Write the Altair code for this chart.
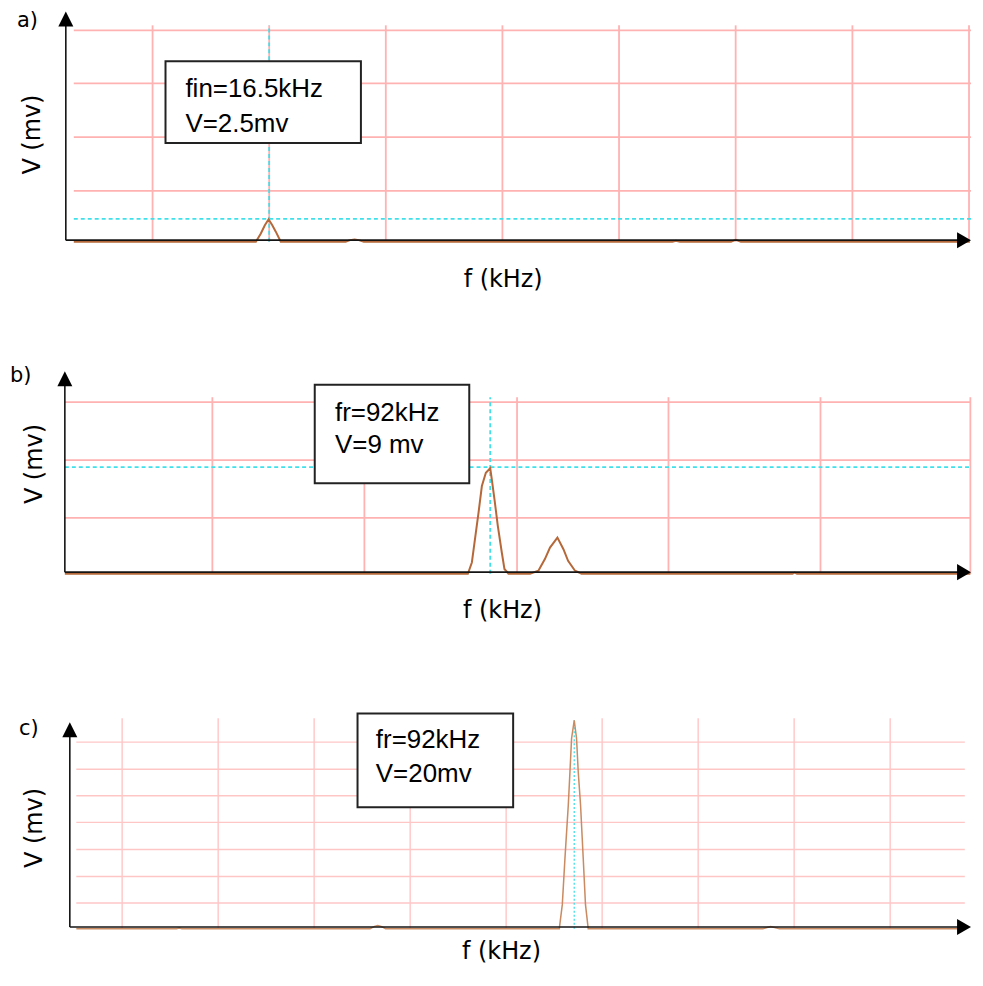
import altair as alt
import pandas as pd

# ---------------- data ----------------
# a) input spectrum: frequency (kHz) / amplitude (mV)
A_F = [0.8, 15.43, 15.83, 16.15, 16.45, 16.75, 17.03, 17.43, 22.64, 23.0, 23.36, 23.7, 24.1,
       48.9, 49.18, 49.5, 53.6, 53.99, 54.4, 72.8]
A_V = [0, 0, 0.9, 1.8, 2.45, 1.8, 1.1, 0, 0, 0.18, 0.25, 0.18, 0,
       0, 0.1, 0, 0, 0.2, 0, 0]
A_GRID_X = [7.13, 16.5, 25.87, 35.24, 44.61, 53.98, 63.36, 72.73]
A_GRID_Y = [5.54, 11.41, 17.28, 23.04]
A_CROSS = (16.5, 2.5)
A_TEXT = ["fin=16.5kHz", "V=2.5mv"]

# b)
B_F = [0.22, 87.18, 88.04, 88.9, 89.48, 90.2, 91.06, 92.0, 92.34, 92.92, 93.64, 94.5, 95.07, 95.94,
       100.6, 102.4, 103.8, 104.9, 106.5, 107.8, 108.8, 110.3, 111.7, 157.2, 157.7, 158.2, 195.6]
B_V = [0, 0, 0.95, 3.47, 5.16, 7.4, 8.52, 8.9, 7.97, 6.28, 4.04, 1.79, 0.4, 0,
       0, 0.25, 1.24, 2.21, 3.05, 2.07, 1.09, 0.25, 0, 0, 0.1, 0, 0]
B_GRID_X = [32.05, 64.85, 97.79, 130.46, 163.26, 195.6]
B_GRID_Y = [4.71, 9.59, 14.47]
B_CROSS = (92.0, 9.0)
B_TEXT = ["fr=92kHz", "V=9 mv"]

# c)
C_F = [2.25, 20.3, 20.8, 21.3, 55.2, 56.0, 56.6, 57.2, 58.0,
       89.31, 89.85, 90.33, 90.93, 91.23, 91.52, 92.0, 92.42, 92.72, 93.14, 93.62, 94.03, 94.52,
       126.0, 127.4, 129.0, 162.4]
C_V = [0, 0, 0.06, 0, 0, 0.22, 0.3, 0.22, 0,
       0, 2.3, 6.77, 11.87, 15.05, 18.25, 20.0, 18.25, 15.05, 11.87, 6.77, 2.3, 0,
       0, 0.2, 0, 0]
C_GRID_X = [10.51, 27.82, 45.12, 62.43, 79.73, 97.03, 114.34, 131.64, 148.95]
C_GRID_Y = [2.46, 5.0, 7.6, 10.2, 12.75, 15.3, 17.9]
C_CROSS = (92.0, 20.0)
C_TEXT = ["fr=92kHz", "V=20mv"]

PANEL_LABELS = ["a)", "b)", "c)"]
X_TITLE = "f (kHz)"
Y_TITLE = "V (mv)"

# ---------------- layout / style ----------------
W = 910
UP = "M0,0L1,2L-1,2Z"
RIGHT = "M0,0L-2,-1.15L-2,1.15Z"

panels_cfg = [
    dict(F=A_F, V=A_V, gx=A_GRID_X, gy=A_GRID_Y, cross=A_CROSS, text=A_TEXT, label=PANEL_LABELS[0],
         xdom=[0, 72.89], ydom=[0, 25.11], h=231, sx=12.485, sy=9.2,
         yx=0.16, ytip=25.11, vtop=23.6, hx=[0.8, 72.89], cyan_h=True, cyan_top=23.6,
         box=[8.17, 23.87, 10.76, 19.67], tx=9.77, ty=[15.76, 11.96],
         xtX=440.7, xtY=276.5, ytX=-23.5, ytY=123.5, lx=-47, ly=16,
         grid="#ffb2b2", gw=1.8, trace="#b5693a", tw=2.0, cyan_dash=[4, 3], cyan_w=1.8),
    dict(F=B_F, V=B_V, gx=B_GRID_X, gy=B_GRID_Y, cross=B_CROSS, text=B_TEXT, label=PANEL_LABELS[1],
         xdom=[0, 195.74], ydom=[-1.26, 17.07], h=218, sx=4.649, sy=11.89,
         yx=0.22, ytip=17.07, vtop=14.89, hx=[0.22, 195.74], cyan_h=True, cyan_top=14.89,
         box=[54.14, 87.48, 7.63, 15.95], tx=58.51, ty=[12.87, 10.15],
         xtX=440.0, xtY=247.8, ytX=-22.3, ytY=93, lx=-54, ly=11,
         grid="#ffb2b2", gw=1.8, trace="#b5693a", tw=2.0, cyan_dash=[4, 3], cyan_w=1.8),
    dict(F=C_F, V=C_V, gx=C_GRID_X, gy=C_GRID_Y, cross=C_CROSS, text=C_TEXT, label=PANEL_LABELS[2],
         xdom=[0, 163.52], ydom=[0, 20.19], h=211, sx=5.565, sy=10.45,
         yx=1.08, ytip=19.81, vtop=20.19, hx=[2.25, 162.4], cyan_h=False, cyan_top=20.0,
         box=[52.94, 80.99, 11.65, 20.64], tx=56.24, ty=[17.29, 14.04],
         xtX=439.0, xtY=241.0, ytX=-22.0, ytY=110, lx=-45, ly=17,
         grid="#ffc6c6", gw=1.4, trace="#c98b61", tw=1.5, cyan_dash=[2, 2], cyan_w=1.3),
]

LABEL_FONT = "DejaVu Sans"
NOTE_FONT = "Liberation Sans"
AXIS_COLOR = "#141414"
CYAN = "#3fe0ea"


def panel(c):
    xs = alt.Scale(domain=c["xdom"], nice=False, zero=False)
    ys = alt.Scale(domain=c["ydom"], nice=False, zero=False)

    def XF(f):
        return alt.X(f"{f}:Q", scale=xs, axis=None)

    def YF(f):
        return alt.Y(f"{f}:Q", scale=ys, axis=None)

    def XD(v):
        return alt.XDatum(v, type="quantitative", scale=xs, axis=None)

    def YD(v):
        return alt.YDatum(v, type="quantitative", scale=ys, axis=None)

    one = pd.DataFrame({"k": [0]})
    layers = []

    # grid
    layers.append(alt.Chart(pd.DataFrame({"f": c["gx"]})).mark_rule(
        color=c["grid"], strokeWidth=c["gw"]).encode(
        x=XF("f"), y=YD(0), y2=alt.Y2Datum(c["vtop"])))
    layers.append(alt.Chart(pd.DataFrame({"v": c["gy"]})).mark_rule(
        color=c["grid"], strokeWidth=c["gw"]).encode(
        y=YF("v"), x=XD(c["hx"][0]), x2=alt.X2Datum(c["hx"][1])))

    # cursor lines
    cross = pd.DataFrame({"f": [c["cross"][0]], "v": [c["cross"][1]]})
    layers.append(alt.Chart(cross).mark_rule(
        color=CYAN, strokeWidth=c["cyan_w"], strokeDash=c["cyan_dash"]).encode(
        x=XF("f"), y=YD(0), y2=alt.Y2Datum(c["cyan_top"])))
    if c["cyan_h"]:
        layers.append(alt.Chart(cross).mark_rule(
            color=CYAN, strokeWidth=c["cyan_w"], strokeDash=c["cyan_dash"]).encode(
            y=YF("v"), x=XD(c["hx"][0]), x2=alt.X2Datum(c["xdom"][1])))

    # spectrum trace
    trace = pd.DataFrame({"f": c["F"], "v": c["V"]})
    layers.append(alt.Chart(trace).mark_line(color=c["trace"], strokeWidth=c["tw"]).encode(
        x=XF("f"), y=YF("v")))

    # axes with arrows
    off = 1.6 / c["sy"]
    layers.append(alt.Chart(one).mark_rule(color=AXIS_COLOR, strokeWidth=1.6).encode(
        x=XD(c["yx"]), y=YD(off), y2=alt.Y2Datum(c["ytip"] - 8 / c["sy"])))
    layers.append(alt.Chart(one).mark_rule(color=AXIS_COLOR, strokeWidth=1.6).encode(
        y=YD(off), x=XD(c["yx"]), x2=alt.X2Datum(c["xdom"][1] - 8 / c["sx"])))
    layers.append(alt.Chart(one).mark_point(shape=UP, size=225, filled=True, opacity=1,
                                            color="black").encode(
        x=XD(c["yx"]), y=YD(c["ytip"])))
    layers.append(alt.Chart(one).mark_point(shape=RIGHT, size=196, filled=True, opacity=1,
                                            color="black").encode(
        x=XD(c["xdom"][1]), y=YD(off)))

    # annotation box
    b = c["box"]
    layers.append(alt.Chart(one).mark_rect(fill="white", stroke="#222222", strokeWidth=2).encode(
        x=XD(b[0]), x2=alt.X2Datum(b[1]), y=YD(b[2]), y2=alt.Y2Datum(b[3])))
    note = pd.DataFrame({"t": c["text"], "f": [c["tx"]] * 2, "v": c["ty"]})
    layers.append(alt.Chart(note).mark_text(align="left", baseline="alphabetic", font=NOTE_FONT,
                                            fontSize=26, color="black").encode(
        x=XF("f"), y=YF("v"), text="t:N"))

    # axis titles and panel label
    layers.append(alt.Chart(one).mark_text(align="center", baseline="alphabetic", font=LABEL_FONT,
                                           fontSize=24, color="black").encode(
        x=alt.value(c["xtX"]), y=alt.value(c["xtY"]), text=alt.value(X_TITLE)))
    layers.append(alt.Chart(one).mark_text(align="center", baseline="alphabetic", font=LABEL_FONT,
                                           fontSize=24, color="black", angle=270).encode(
        x=alt.value(c["ytX"]), y=alt.value(c["ytY"]), text=alt.value(Y_TITLE)))
    layers.append(alt.Chart(one).mark_text(align="left", baseline="alphabetic", font=LABEL_FONT,
                                           fontSize=21, color="black").encode(
        x=alt.value(c["lx"]), y=alt.value(c["ly"]), text=alt.value(c["label"])))

    return alt.layer(*layers).properties(width=W, height=c["h"])


chart = alt.vconcat(*[panel(c) for c in panels_cfg], spacing=130, bounds="flush").properties(
    padding={"left": 2, "top": 1, "right": 0, "bottom": 0},
    background="white",
).configure_view(stroke=None)

chart.save("out.html", embed_options={"renderer": "svg", "actions": False})
